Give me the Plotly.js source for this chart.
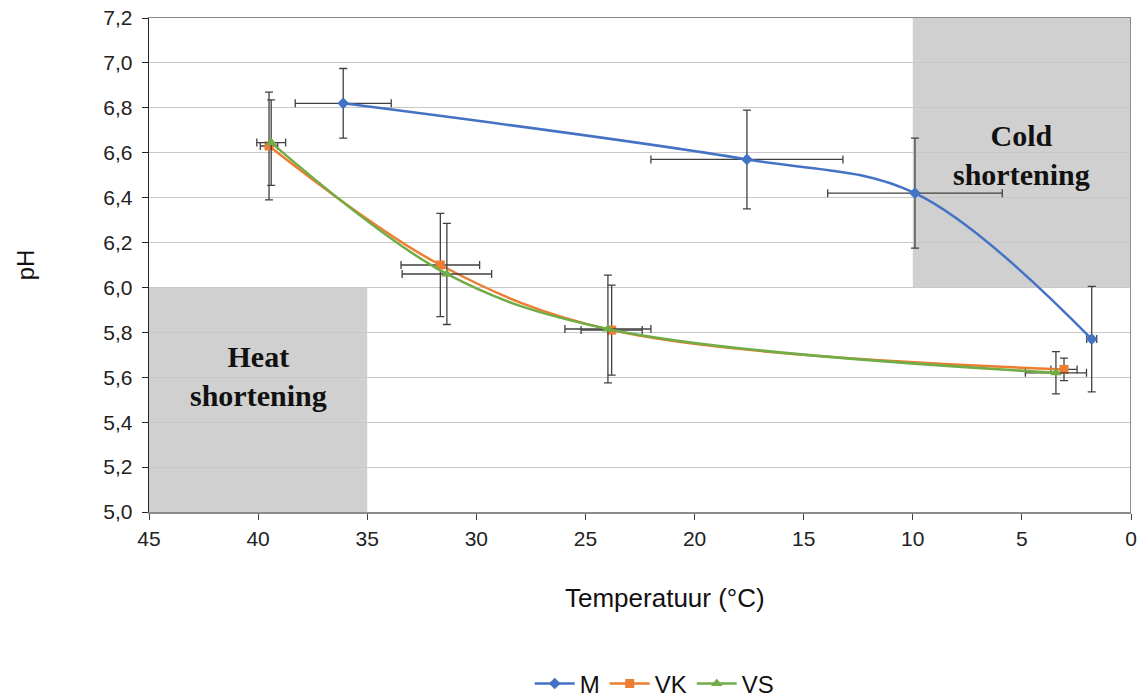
<!DOCTYPE html>
<html>
<head>
<meta charset="utf-8">
<script src="https://cdn.plot.ly/plotly-3.0.1.min.js"></script>
<style>html,body{margin:0;padding:0;background:#fff;}#chart{width:1142px;height:699px;}</style>
</head>
<body>
<div id="chart"></div>
<script>
// Series M
const mTemp   = [36.1, 17.6, 9.9, 1.8];
const mPH     = [6.82, 6.57, 6.42, 5.77];
const mTempErr = [2.2, 4.4, 4.0, 0.23];
const mPHErr   = [0.155, 0.22, 0.245, 0.235];
// Series VK
const vkTemp   = [39.5, 31.65, 23.8, 3.07];
const vkPH     = [6.63, 6.10, 5.81, 5.635];
const vkTempErr = [0.4, 1.8, 1.4, 0.6];
const vkPHErr   = [0.24, 0.23, 0.2, 0.05];
// Series VS
const vsTemp   = [39.4, 31.35, 23.97, 3.44];
const vsPH     = [6.645, 6.06, 5.815, 5.62];
const vsTempErr = [0.66, 2.05, 1.97, 1.4];
const vsPHErr   = [0.19, 0.225, 0.24, 0.094];

const xTicks = [45, 40, 35, 30, 25, 20, 15, 10, 5, 0];
const seriesNames = ['M', 'VK', 'VS'];
const colors = ['#4472C4', '#ED7D31', '#70AD47'];
const errColor = '#404040';

function mk(name, x, y, ex, ey, color, symbol, size) {
  return {
    type: 'scatter', mode: 'lines+markers', name: name,
    x: x, y: y,
    line: {color: color, width: 2.5, shape: 'spline', smoothing: 1},
    marker: {color: color, symbol: symbol, size: size},
    error_x: {type: 'data', array: ex, visible: true, color: errColor, thickness: 1.3, width: 4},
    error_y: {type: 'data', array: ey, visible: true, color: errColor, thickness: 1.3, width: 4}
  };
}

const data = [
  mk(seriesNames[0], mTemp, mPH, mTempErr, mPHErr, colors[0], 'diamond', 9),
  mk(seriesNames[1], vkTemp, vkPH, vkTempErr, vkPHErr, colors[1], 'square', 9),
  mk(seriesNames[2], vsTemp, vsPH, vsTempErr, vsPHErr, colors[2], 'triangle-up', 10)
];

const layout = {
  width: 1142, height: 699,
  margin: {l: 149, r: 11, t: 18, b: 187, autoexpand: false},
  paper_bgcolor: '#fff', plot_bgcolor: '#fff',
  separators: ', ',
  font: {family: 'Liberation Sans, Arial, sans-serif', color: '#404040', size: 21},
  showlegend: true,
  legend: {orientation: 'h', x: 0.515, xanchor: 'center', y: -0.348, yanchor: 'middle',
           font: {size: 24, color: '#111'}, itemwidth: 40, traceorder: 'normal'},
  xaxis: {
    range: [45, 0], tickvals: xTicks, ticktext: xTicks.map(String),
    showgrid: false, zeroline: false,
    showline: true, linecolor: '#8c8c8c', linewidth: 1.5, mirror: true,
    ticks: 'outside', ticklen: 6, tickcolor: '#404040',
    ticklabelstandoff: 1,
    tickfont: {size: 21, color: '#222'}
  },
  yaxis: {
    range: [5, 7.2], dtick: 0.2, tick0: 5, tickformat: '.1f',
    showgrid: true, gridcolor: '#c8c8c8', gridwidth: 1, zeroline: false,
    showline: true, linecolor: '#262626', linewidth: 1.3,
    ticks: 'outside', ticklen: 6, tickcolor: '#262626',
    ticklabelstandoff: 5,
    tickfont: {size: 21, color: '#222'},
    title: {text: 'pH', font: {size: 24, color: '#111'}, standoff: 62}
  },
  shapes: [
    {type: 'rect', layer: 'below', xref: 'x', yref: 'y', x0: 10, x1: 0, y0: 6.0, y1: 7.2,
     fillcolor: '#d0d0d0', line: {width: 0}},
    {type: 'rect', layer: 'below', xref: 'x', yref: 'y', x0: 45, x1: 35, y0: 5.0, y1: 6.0,
     fillcolor: '#d0d0d0', line: {width: 0}},
    {type: 'line', layer: 'above', xref: 'x', yref: 'paper', x0: 0, x1: 0, y0: 0, y1: 1,
     line: {color: '#8c8c8c', width: 2}}
  ],
  annotations: [
    {xref: 'paper', yref: 'paper', x: 0.5255, y: -0.174, yanchor: 'middle', xanchor: 'center',
     text: 'Temperatuur (°C)', showarrow: false,
     font: {family: 'Liberation Sans, Arial, sans-serif', size: 26, color: '#111'}},
    {xref: 'x', yref: 'y', x: 5, y: 6.588, text: '<b>Cold<br>shortening</b>', showarrow: false,
     font: {family: 'Liberation Serif, Times New Roman, serif', size: 30, color: '#111'}},
    {xref: 'x', yref: 'y', x: 40, y: 5.607, text: '<b>Heat<br>shortening</b>', showarrow: false,
     font: {family: 'Liberation Serif, Times New Roman, serif', size: 30, color: '#111'}}
  ]
};

Plotly.newPlot('chart', data, layout, {displayModeBar: false, staticPlot: true});
</script>
</body>
</html>
